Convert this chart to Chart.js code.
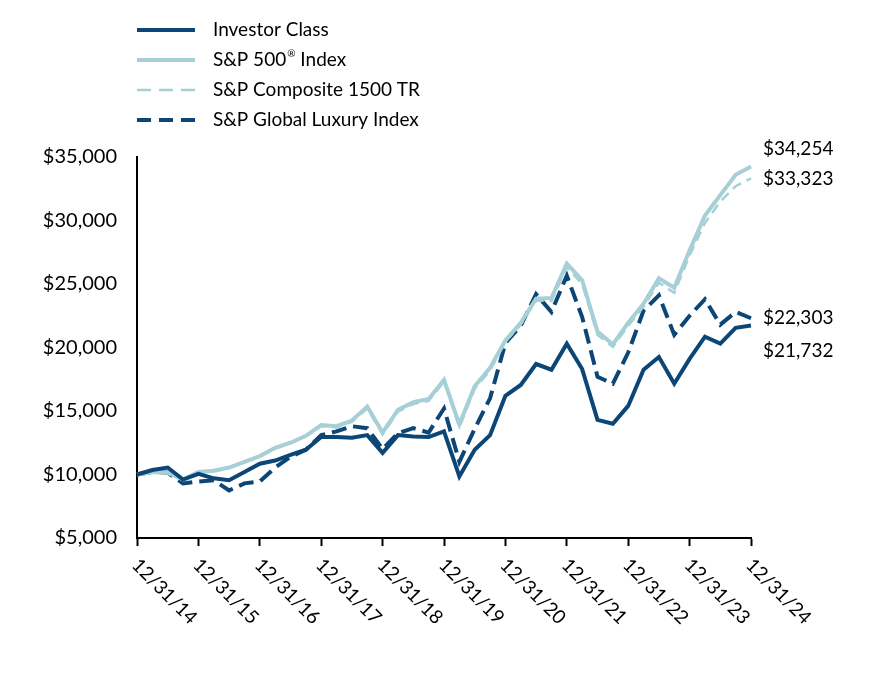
<!DOCTYPE html>
<html>
<head>
<meta charset="utf-8">
<script src="https://cdn.jsdelivr.net/npm/chart.js@4.4.1/dist/chart.umd.min.js"></script>
<style>
  body { margin: 0; background: #fff; }
  #wrap { width: 880px; height: 688px; position: relative; }
</style>
</head>
<body>
<div id="wrap"><canvas id="growth-chart"></canvas></div>
<script>
const quarters = [
  "12/31/14", "3/31/15", "6/30/15", "9/30/15",
  "12/31/15", "3/31/16", "6/30/16", "9/30/16",
  "12/31/16", "3/31/17", "6/30/17", "9/30/17",
  "12/31/17", "3/31/18", "6/30/18", "9/30/18",
  "12/31/18", "3/31/19", "6/30/19", "9/30/19",
  "12/31/19", "3/31/20", "6/30/20", "9/30/20",
  "12/31/20", "3/31/21", "6/30/21", "9/30/21",
  "12/31/21", "3/31/22", "6/30/22", "9/30/22",
  "12/31/22", "3/31/23", "6/30/23", "9/30/23",
  "12/31/23", "3/31/24", "6/30/24", "9/30/24",
  "12/31/24"
];

const investorClass = [
  10000, 10350, 10550, 9600, 10050, 9700, 9550, 10200,
  10850, 11100, 11550, 11950, 12950, 12950, 12900, 13100,
  11700, 13100, 13000, 12950, 13400, 9850, 11950, 13100,
  16200, 17050, 18700, 18250, 20300, 18300, 14300, 14000,
  15400, 18250, 19250, 17150, 19100, 20850, 20300, 21550,
  21732
];

const sp500 = [
  10000, 10200, 10150, 9600, 10200, 10300, 10550, 11000,
  11450, 12100, 12500, 13050, 13900, 13800, 14250, 15350,
  13300, 15100, 15700, 15950, 17450, 13950, 16950, 18400,
  20550, 21950, 23850, 23900, 26600, 25300, 21250, 20250,
  21950, 23450, 25450, 24700, 27650, 30400, 32000, 33600,
  34254
];

const composite1500 = [
  10000, 10180, 10120, 9580, 10150, 10250, 10500, 10950,
  11450, 12050, 12450, 13000, 13800, 13700, 14150, 15200,
  13150, 14950, 15550, 15800, 17300, 13700, 16750, 18200,
  20450, 21800, 23700, 23650, 26300, 25000, 21000, 20050,
  21700, 23200, 25100, 24300, 27250, 29800, 31500, 32700,
  33323
];

const globalLuxury = [
  10000, 10200, 10150, 9300, 9450, 9550, 8750, 9300,
  9450, 10550, 11400, 11950, 13100, 13400, 13800, 13650,
  12000, 13250, 13650, 13300, 15200, 11000, 13600, 16000,
  20350, 21700, 24200, 22800, 25650, 22400, 17700, 17150,
  19600, 22900, 24100, 21000, 22500, 23800, 21800, 22800,
  22303
];

const yTicks = [5000, 10000, 15000, 20000, 25000, 30000, 35000];

const DARK = "#0B4677";
const LIGHT = "#A6D0D6";
const FONT = "Lato, 'Open Sans', sans-serif";

const money = v => "$" + v.toLocaleString("en-US");

const seriesInfo = [
  { label: "Investor Class", data: investorClass, color: DARK, width: 4, dash: [], endOffset: 25 },
  { label: "S&P 500", sup: "®", after: " Index", data: sp500, color: LIGHT, width: 4, dash: [], endOffset: -18 },
  { label: "S&P Composite 1500 TR", data: composite1500, color: LIGHT, width: 2.5, dash: [10, 6], endOffset: 1 },
  { label: "S&P Global Luxury Index", data: globalLuxury, color: DARK, width: 4, dash: [15, 7], endOffset: 0 }
];

const legendAndLabels = {
  id: "legendAndLabels",
  afterDraw(chart) {
    const { ctx, scales: { x, y } } = chart;
    ctx.save();
    ctx.fillStyle = "#000";
    ctx.font = "19px " + FONT;
    ctx.textBaseline = "middle";

    // legend
    seriesInfo.forEach((s, i) => {
      const ly = 30 + i * 30;
      ctx.save();
      ctx.strokeStyle = s.color;
      ctx.lineWidth = s.width;
      ctx.setLineDash(s.dash.length ? [14, 8] : []);
      ctx.beginPath();
      ctx.moveTo(137, ly);
      ctx.lineTo(195, ly);
      ctx.stroke();
      ctx.restore();
      ctx.textAlign = "left";
      let tx = 213;
      ctx.fillText(s.label, tx, ly);
      if (s.sup) {
        tx += ctx.measureText(s.label).width + 1;
        ctx.save();
        ctx.font = "10px " + FONT;
        ctx.fillText(s.sup, tx, ly - 6);
        tx += ctx.measureText(s.sup).width;
        ctx.restore();
        ctx.fillText(s.after, tx, ly);
      }
    });

    // end values
    const lastIdx = quarters.length - 1;
    seriesInfo.forEach(s => {
      const v = s.data[lastIdx];
      ctx.textAlign = "left";
      ctx.fillText(money(v), x.right + 12, y.getPixelForValue(v) + s.endOffset);
    });

    // rotated date labels
    quarters.forEach((q, i) => {
      if (!q.startsWith("12/31")) return;
      const px = x.getPixelForValue(i);
      ctx.save();
      ctx.translate(px - 2, y.bottom + 24);
      ctx.rotate(Math.PI / 4);
      ctx.textAlign = "left";
      ctx.fillText(q, 0, 0);
      ctx.restore();
    });
    ctx.restore();
  }
};

new Chart(document.getElementById("growth-chart"), {
  type: "line",
  data: {
    labels: quarters,
    datasets: seriesInfo.map(s => ({
      label: s.label,
      data: s.data,
      borderColor: s.color,
      borderWidth: s.width,
      borderDash: s.dash,
      pointRadius: 0,
      tension: 0,
      fill: false
    }))
  },
  options: {
    responsive: true,
    maintainAspectRatio: false,
    animation: false,
    layout: { padding: { top: 157, right: 129, left: 0, bottom: 0 } },
    plugins: { legend: { display: false }, tooltip: { enabled: false } },
    scales: {
      x: {
        type: "category",
        afterFit: scale => { scale.height = 150; },
        ticks: { display: false, autoSkip: false },
        grid: {
          display: true,
          drawOnChartArea: false,
          drawTicks: true,
          tickLength: 8,
          tickWidth: 2,
          tickColor: c => (quarters[c.index] || "").startsWith("12/31") ? "#000" : "rgba(0,0,0,0)"
        },
        border: { display: true, color: "#000", width: 2 }
      },
      y: {
        min: yTicks[0],
        max: yTicks[yTicks.length - 1],
        afterFit: scale => { scale.width = 137; },
        afterBuildTicks: scale => { scale.ticks = yTicks.map(v => ({ value: v })); },
        ticks: {
          color: "#000",
          font: { family: FONT, size: 20 },
          padding: 20,
          callback: v => money(v)
        },
        grid: { display: false, drawTicks: false },
        border: { display: true, color: "#000", width: 2 }
      }
    }
  },
  plugins: [legendAndLabels]
});
</script>
</body>
</html>
